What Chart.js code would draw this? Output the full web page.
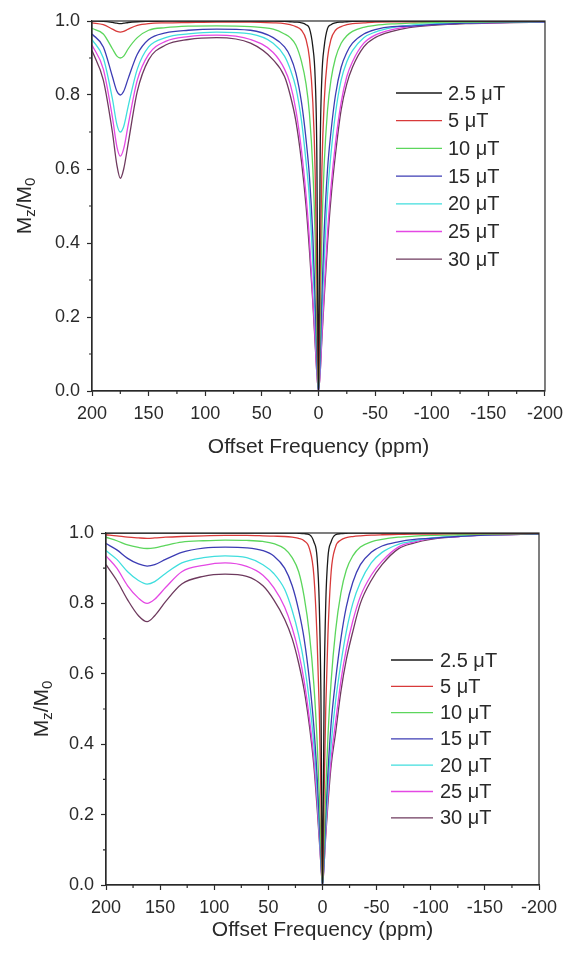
<!DOCTYPE html>
<html>
<head>
<meta charset="utf-8">
<script src="https://cdn.jsdelivr.net/npm/chart.js@4.4.1/dist/chart.umd.min.js"></script>
<style>
  html, body { margin: 0; padding: 0; background: #fff; }
  canvas { position: absolute; left: 0; }
  #topChart { top: 0; }
  #bottomChart { top: 476px; }
</style>
</head>
<body>
<canvas id="topChart" width="570" height="470"></canvas>
<canvas id="bottomChart" width="570" height="477"></canvas>
<script>
const fieldLabels = ["2.5 μT", "5 μT", "10 μT", "15 μT", "20 μT", "25 μT", "30 μT"];
const lineColors = ["#1a1a1a", "#d83a3a", "#5cd65c", "#3c3cb4", "#40dede", "#e448e4", "#6e3a5e"];

const xTicks = [200, 150, 100, 50, 0, -50, -100, -150, -200];
const xMinor = [175, 125, 75, 25, -25, -75, -125, -175];
const yMinor = [0.1, 0.3, 0.5, 0.7, 0.9];

// ---- top panel ----
const topOffsets = [200, 190, 182, 178, 175, 172, 168, 160, 150, 135, 115, 90, 60,
  40, 30, 25, 20, 15, 11, 8, 5, 3, 1.5, 0,
  -1.5, -3, -5, -8, -11, -15, -20, -25, -30, -40, -50, -65, -80, -100, -130, -160, -200];

const top2p5 = [1.0, 0.999, 0.996, 0.994, 0.993, 0.994, 0.996, 0.998, 0.999, 1.0, 1.0, 1.0, 1.0,
  1.0, 0.999, 0.998, 0.997, 0.995, 0.99, 0.98, 0.93, 0.85, 0.65, 0,
  0.65, 0.85, 0.93, 0.98, 0.99, 0.995, 0.997, 0.998, 0.999, 1.0, 1.0, 1.0, 1.0, 1.0, 1.0, 1.0, 1.0];
const top5 = [0.995, 0.99, 0.978, 0.972, 0.97, 0.972, 0.978, 0.988, 0.993, 0.995, 0.996, 0.997, 0.997,
  0.995, 0.993, 0.99, 0.985, 0.975, 0.95, 0.90, 0.78, 0.60, 0.32, 0,
  0.32, 0.60, 0.78, 0.90, 0.95, 0.975, 0.985, 0.99, 0.993, 0.995, 0.997, 0.998, 0.998, 0.999, 0.999, 0.999, 1.0];
const top10 = [0.98, 0.965, 0.925, 0.905, 0.90, 0.905, 0.925, 0.955, 0.975, 0.982, 0.986, 0.987, 0.985,
  0.978, 0.965, 0.955, 0.935, 0.89, 0.83, 0.75, 0.60, 0.42, 0.18, 0,
  0.18, 0.43, 0.61, 0.76, 0.84, 0.90, 0.94, 0.96, 0.972, 0.983, 0.988, 0.992, 0.994, 0.996, 0.997, 0.998, 0.999];
const top15 = [0.965, 0.93, 0.85, 0.81, 0.80, 0.81, 0.845, 0.91, 0.95, 0.968, 0.975, 0.978, 0.975,
  0.955, 0.93, 0.905, 0.86, 0.78, 0.68, 0.58, 0.42, 0.25, 0.10, 0,
  0.10, 0.26, 0.43, 0.60, 0.70, 0.80, 0.875, 0.915, 0.94, 0.965, 0.977, 0.985, 0.986, 0.99, 0.994, 0.996, 0.998];
const top20 = [0.95, 0.90, 0.79, 0.72, 0.70, 0.715, 0.77, 0.87, 0.93, 0.955, 0.965, 0.97, 0.965,
  0.94, 0.905, 0.87, 0.82, 0.73, 0.62, 0.52, 0.34, 0.20, 0.08, 0,
  0.08, 0.21, 0.35, 0.53, 0.64, 0.75, 0.84, 0.89, 0.92, 0.955, 0.97, 0.982, 0.988, 0.992, 0.995, 0.997, 0.998];
const top25 = [0.935, 0.87, 0.74, 0.66, 0.635, 0.655, 0.72, 0.84, 0.91, 0.945, 0.958, 0.962, 0.95,
  0.915, 0.87, 0.83, 0.76, 0.65, 0.53, 0.41, 0.25, 0.14, 0.05, 0,
  0.05, 0.15, 0.27, 0.43, 0.55, 0.67, 0.78, 0.85, 0.89, 0.94, 0.962, 0.977, 0.985, 0.99, 0.994, 0.996, 0.997];
const top30 = [0.92, 0.84, 0.70, 0.61, 0.575, 0.60, 0.67, 0.81, 0.895, 0.935, 0.95, 0.955, 0.94,
  0.895, 0.85, 0.80, 0.73, 0.62, 0.50, 0.38, 0.24, 0.13, 0.05, 0,
  0.05, 0.14, 0.25, 0.40, 0.52, 0.64, 0.76, 0.83, 0.875, 0.93, 0.955, 0.972, 0.982, 0.988, 0.993, 0.995, 0.997];

// ---- bottom panel ----
const bottomOffsets = [200, 190, 180, 170, 162, 155, 145, 130, 110, 90,
  70, 55, 45, 35, 28, 22, 17, 12, 8, 5, 3, 1.5, 0,
  -1.5, -3, -5, -8, -12, -17, -22, -28, -35, -45, -55, -70, -85, -100, -125, -150, -200];

const bot2p5 = [1.0, 1.0, 1.0, 1.0, 1.0, 1.0, 1.0, 1.0, 1.0, 1.0,
  1.0, 1.0, 1.0, 1.0, 1.0, 0.999, 0.998, 0.995, 0.975, 0.93, 0.80, 0.55, 0,
  0.55, 0.80, 0.93, 0.975, 0.995, 0.998, 0.999, 1.0, 1.0, 1.0, 1.0, 1.0, 1.0, 1.0, 1.0, 1.0, 1.0];
const bot5 = [0.995, 0.992, 0.988, 0.986, 0.985, 0.986, 0.988, 0.99, 0.992, 0.993,
  0.993, 0.992, 0.991, 0.99, 0.988, 0.985, 0.978, 0.955, 0.88, 0.70, 0.50, 0.26, 0,
  0.26, 0.50, 0.71, 0.89, 0.96, 0.98, 0.987, 0.99, 0.992, 0.994, 0.995, 0.996, 0.997, 0.997, 0.998, 0.998, 0.999];
const bot10 = [0.988, 0.978, 0.966, 0.959, 0.956, 0.958, 0.965, 0.974, 0.978, 0.98,
  0.979, 0.976, 0.97, 0.955, 0.93, 0.89, 0.82, 0.71, 0.57, 0.41, 0.26, 0.12, 0,
  0.12, 0.27, 0.42, 0.58, 0.72, 0.83, 0.895, 0.935, 0.96, 0.975, 0.982, 0.988, 0.991, 0.993, 0.995, 0.997, 0.998];
const bot15 = [0.97, 0.952, 0.928, 0.912, 0.906, 0.91, 0.925, 0.945, 0.957, 0.96,
  0.958, 0.95, 0.935, 0.90, 0.85, 0.78, 0.70, 0.58, 0.45, 0.31, 0.19, 0.08, 0,
  0.08, 0.20, 0.32, 0.46, 0.58, 0.70, 0.79, 0.86, 0.91, 0.945, 0.963, 0.975, 0.982, 0.985, 0.99, 0.994, 0.997];
const bot20 = [0.95, 0.925, 0.89, 0.865, 0.855, 0.862, 0.885, 0.915, 0.93, 0.935,
  0.93, 0.91, 0.885, 0.84, 0.78, 0.71, 0.63, 0.52, 0.40, 0.27, 0.16, 0.07, 0,
  0.07, 0.17, 0.28, 0.40, 0.52, 0.63, 0.72, 0.80, 0.86, 0.915, 0.945, 0.968, 0.978, 0.986, 0.991, 0.995, 0.998];
const bot25 = [0.935, 0.90, 0.85, 0.815, 0.80, 0.812, 0.845, 0.89, 0.908, 0.915,
  0.905, 0.88, 0.845, 0.79, 0.73, 0.66, 0.58, 0.47, 0.36, 0.24, 0.14, 0.06, 0,
  0.06, 0.15, 0.25, 0.36, 0.46, 0.58, 0.67, 0.75, 0.82, 0.88, 0.92, 0.96, 0.975, 0.984, 0.99, 0.994, 0.997];
const bot30 = [0.91, 0.865, 0.81, 0.765, 0.748, 0.765, 0.805, 0.855, 0.877, 0.883,
  0.877, 0.85, 0.81, 0.755, 0.70, 0.63, 0.555, 0.45, 0.34, 0.22, 0.13, 0.06, 0,
  0.06, 0.14, 0.23, 0.34, 0.43, 0.55, 0.64, 0.72, 0.80, 0.865, 0.91, 0.955, 0.972, 0.982, 0.99, 0.994, 0.997];

const FONT = '"Liberation Sans", Arial, sans-serif';
Chart.defaults.font.family = FONT;
const INK = '#2a2a2a';

function toPoints(xs, ys) {
  return xs.map((x, i) => ({ x: x, y: ys[i] }));
}

function makeDatasets(xs, series) {
  return series.map((ys, i) => ({
    label: fieldLabels[i],
    data: toPoints(xs, ys),
    borderColor: lineColors[i],
    backgroundColor: lineColors[i],
    borderWidth: 1.3,
    pointRadius: 0,
    cubicInterpolationMode: 'monotone',
    fill: false
  }));
}

// frame, minor ticks, M_z/M_0 title and the in-plot legend
const panelDecor = {
  id: 'panelDecor',
  afterDatasetsDraw(chart, args, o) {
    const { ctx, chartArea: a, scales: { x, y } } = chart;
    ctx.save();
    ctx.strokeStyle = INK;
    ctx.lineWidth = 1.2;
    ctx.strokeRect(a.left, a.top, a.right - a.left, a.bottom - a.top);

    ctx.beginPath();
    xMinor.forEach(v => {
      const px = x.getPixelForValue(v);
      ctx.moveTo(px, a.bottom); ctx.lineTo(px, a.bottom + 3);
    });
    yMinor.forEach(v => {
      const py = y.getPixelForValue(v);
      ctx.moveTo(a.left, py); ctx.lineTo(a.left - 3, py);
    });
    ctx.stroke();

    // rotated axis title with subscripts
    const parts = [['M', 21, 0], ['z', 15, 4], ['/M', 21, 0], ['0', 15, 4]];
    ctx.translate(o.titleX, (a.top + a.bottom) / 2);
    ctx.rotate(-Math.PI / 2);
    let total = 0;
    parts.forEach(p => { ctx.font = p[1] + 'px ' + FONT; total += ctx.measureText(p[0]).width; });
    let cx = -total / 2;
    ctx.fillStyle = INK;
    ctx.textBaseline = 'alphabetic';
    parts.forEach(p => {
      ctx.font = p[1] + 'px ' + FONT;
      ctx.fillText(p[0], cx, p[2]);
      cx += ctx.measureText(p[0]).width;
    });
    ctx.setTransform(1, 0, 0, 1, 0, 0);

    // legend
    ctx.font = '20px ' + FONT;
    ctx.textBaseline = 'middle';
    ctx.textAlign = 'left';
    chart.data.datasets.forEach((ds, i) => {
      const ly = o.legendTop + i * o.legendGap;
      ctx.strokeStyle = ds.borderColor;
      ctx.lineWidth = 1.3;
      ctx.beginPath();
      ctx.moveTo(o.lineX0, ly); ctx.lineTo(o.lineX1, ly);
      ctx.stroke();
      ctx.fillStyle = INK;
      ctx.fillText(ds.label, o.textX, ly + 1);
    });
    ctx.restore();
  }
};

function makeOptions(pad, yWidth, xHeight, titlePad, decor) {
  return {
    responsive: false,
    animation: false,
    layout: { padding: pad },
    plugins: {
      legend: { display: false },
      tooltip: { enabled: false },
      panelDecor: decor
    },
    scales: {
      x: {
        type: 'linear',
        reverse: true,
        min: -200,
        max: 200,
        afterFit: s => { s.height = xHeight; },
        afterBuildTicks: s => { s.ticks = xTicks.map(v => ({ value: v })); },
        ticks: {
          color: INK,
          autoSkip: false,
          maxRotation: 0,
          padding: 7,
          font: { size: 18 },
          callback: v => String(v)
        },
        grid: { display: true, drawOnChartArea: false, drawTicks: true, tickLength: 5, color: INK, tickWidth: 1.2 },
        border: { display: true, color: INK, width: 1.2 },
        title: {
          display: true,
          text: 'Offset Frequency (ppm)',
          color: INK,
          font: { size: 21 },
          padding: { top: 0, bottom: titlePad }
        }
      },
      y: {
        min: 0,
        max: 1,
        afterFit: s => { s.width = yWidth; },
        ticks: {
          stepSize: 0.2,
          color: INK,
          padding: 7,
          font: { size: 18 },
          callback: v => v.toFixed(1)
        },
        grid: { display: true, drawOnChartArea: false, drawTicks: true, tickLength: 5, color: INK, tickWidth: 1.2 },
        border: { display: true, color: INK, width: 1.2 }
      }
    }
  };
}

new Chart(document.getElementById('topChart'), {
  type: 'line',
  data: { datasets: makeDatasets(topOffsets, [top2p5, top5, top10, top15, top20, top25, top30]) },
  options: makeOptions({ left: 0, right: 22, top: 21, bottom: 9 }, 92, 70, 1,
    { titleX: 31, legendTop: 93, legendGap: 27.7, lineX0: 396, lineX1: 442, textX: 448 }),
  plugins: [panelDecor]
});

new Chart(document.getElementById('bottomChart'), {
  type: 'line',
  data: { datasets: makeDatasets(bottomOffsets, [bot2p5, bot5, bot10, bot15, bot20, bot25, bot30]) },
  options: makeOptions({ left: 0, right: 31, top: 57, bottom: 2 }, 106, 66, 8,
    { titleX: 48, legendTop: 184, legendGap: 26.3, lineX0: 391, lineX1: 433, textX: 440 }),
  plugins: [panelDecor]
});
</script>
</body>
</html>
